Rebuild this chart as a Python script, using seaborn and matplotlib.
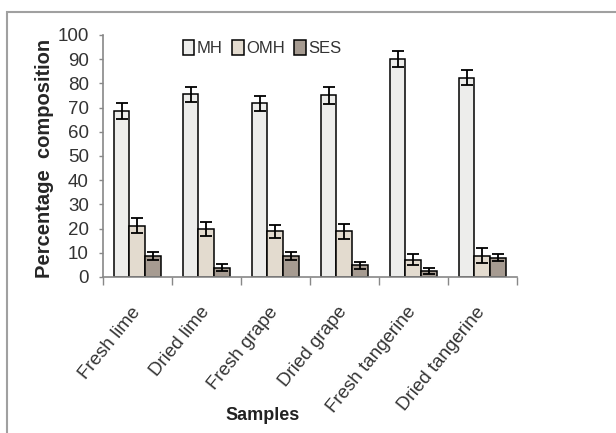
import numpy as np
import pandas as pd
import matplotlib.pyplot as plt
import seaborn as sns

# values
samples = ['Fresh lime', 'Dried lime', 'Fresh grape', 'Dried grape',
           'Fresh tangerine', 'Dried tangerine']
groups = ['MH', 'OMH', 'SES']
mh = [68.6, 75.5, 71.7, 75.0, 90.1, 82.4]
omh = [21.2, 19.8, 18.9, 19.0, 7.1, 8.8]
ses = [8.7, 3.9, 8.7, 4.8, 2.5, 7.9]
mh_err = [3.3, 3.0, 3.0, 3.5, 3.2, 3.2]
omh_err = [3.2, 3.0, 2.6, 3.1, 2.3, 3.0]
ses_err = [1.5, 1.4, 1.5, 1.4, 1.3, 1.4]

df = pd.DataFrame({
    'sample': samples * 3,
    'group': [g for g in groups for _ in samples],
    'value': mh + omh + ses,
})
errs = [mh_err, omh_err, ses_err]
colors = ['#ededeb', '#e7dccb', '#a99b8d']

sns.set_style('white')
plt.rcParams['font.family'] = ['Liberation Sans', 'DejaVu Sans']

fig = plt.figure(figsize=(6.16, 4.33), dpi=100)
ax = fig.add_axes([0.1667, 0.3603, 0.6721, 0.5589])

sns.barplot(data=df, x='sample', y='value', hue='group', order=samples,
            hue_order=groups, palette=colors, width=0.68, edgecolor='black',
            linewidth=1.1, errorbar=None, ax=ax)

for cont, err in zip(ax.containers, errs):
    xs = [b.get_x() + b.get_width() / 2 for b in cont]
    ys = [b.get_height() for b in cont]
    ax.errorbar(xs, ys, yerr=err, fmt='none', ecolor='black', elinewidth=1.3,
                capsize=4.5, capthick=1.3)

ax.set_ylim(0, 100)
ax.set_xlim(-0.5, len(samples) - 0.5)
ax.set_yticks(range(0, 101, 10))
ax.tick_params(axis='y', labelsize=13.5, labelcolor='#333333', length=3,
               color='#888888', width=1, pad=7, left=True)
ax.set_xticks(np.arange(-0.5, len(samples), 1), minor=True)
ax.tick_params(axis='x', which='minor', length=6, color='#888888', width=1, bottom=True)
ax.tick_params(axis='x', which='major', length=0, pad=23)
ax.set_xticklabels(samples, rotation=51, ha='right', va='center',
                   rotation_mode='anchor', fontsize=13.5, color='#333333')
for sp in ['top', 'right']:
    ax.spines[sp].set_visible(False)
for sp in ['left', 'bottom']:
    ax.spines[sp].set_color('#888888')
    ax.spines[sp].set_linewidth(1.2)

ax.set_xlabel('')
ax.set_ylabel('Percentage  composition', fontsize=14.5, fontweight='bold')
ax.yaxis.set_label_coords(-0.118, 0.49)
fig.text(262.5 / 616, 1 - 415 / 433, 'Samples', ha='center', va='center',
         fontsize=13, fontweight='bold', color='#222222')

leg = ax.legend(loc='center', bbox_to_anchor=(0.385, 0.946), ncol=3, frameon=False,
                fontsize=12, handlelength=0.7, handleheight=1.0,
                handletextpad=0.15, columnspacing=0.55, borderaxespad=0)
for t in leg.get_texts():
    t.set_color('#333333')

border = plt.Rectangle((7 / 616, -0.05), 1.1, 1 - 11.5 / 433 + 0.05,
                       transform=fig.transFigure, fill=False,
                       edgecolor='#a0a0a0', linewidth=1.5)
fig.patches.append(border)

fig.savefig('out.png', dpi=100)
